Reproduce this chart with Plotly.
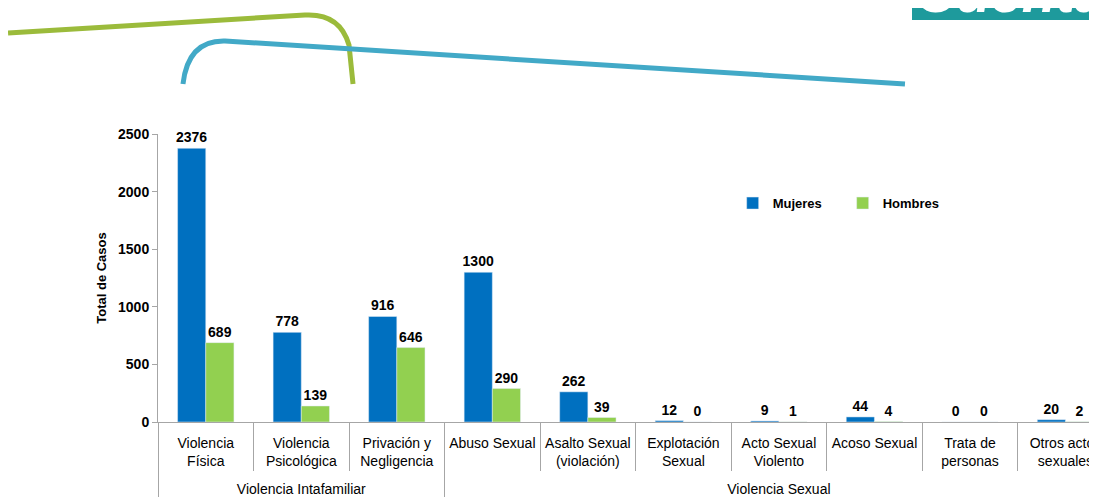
import plotly.graph_objects as go

grupos = ["\u00a0<br>Violencia Intafamiliar"] * 3 + ["\u00a0<br>Violencia Sexual"] * 7
categorias = ["Violencia<br>Física", "Violencia<br>Psicológica", "Privación y<br>Negligencia",
              "Abuso Sexual<br> ", "Asalto Sexual<br>(violación)", "Explotación<br>Sexual",
              "Acto Sexual<br>Violento", "Acoso Sexual<br> ", "Trata de<br>personas",
              "Otros actos<br>sexuales"]
mujeres = [2376, 778, 916, 1300, 262, 12, 9, 44, 0, 20]
hombres = [689, 139, 646, 290, 39, 0, 1, 4, 0, 2]

AZUL = "#0070C0"
VERDE = "#92D050"
FONT = "Liberation Sans, Arial"

W, H = 1097, 497
OFF = 8                      # page body margin
PL, PT, PB = 158, 134, 422   # plot area in page pixels
PW, PH = W - PL, PB - PT


def px(x, y):
    # page pixel -> paper coords (decoration only)
    return (x - PL) / PW, (PB - y) / PH


def path(pts):
    s = ""
    for cmd, x, y in pts:
        a, b = px(x, y)
        s += f"{cmd} {a:.4f},{b:.4f} "
    return s


fig = go.Figure()
for nombre, vals, color in [("Mujeres", mujeres, AZUL), ("Hombres", hombres, VERDE)]:
    fig.add_bar(x=[grupos, categorias], y=vals, name=nombre, marker_color=color,
                text=vals, textposition="outside", cliponaxis=False, constraintext="none",
                textfont=dict(size=14, color="black", family=FONT, weight="bold"))

# header decoration
fig.add_shape(type="path", xref="paper", yref="paper", line=dict(color="#9BBB3B", width=5),
              path=path([("M", 8, 33), ("L", 305, 15), ("Q", 340, 13), ("", 349, 45), ("L", 353, 84)]))
fig.add_shape(type="path", xref="paper", yref="paper", line=dict(color="#42A9C7", width=5),
              path=path([("M", 183, 84), ("Q", 188, 40), ("", 225, 41), ("L", 905, 84)]))
x0, y0 = px(912, -12)
x1, y1 = px(1110, 20)
fig.add_shape(type="rect", xref="paper", yref="paper", x0=x0, y0=y0, x1=x1, y1=y1,
              fillcolor="#1E9A9C", line_width=0, layer="below")
fig.add_annotation(xref="paper", yref="paper", x=px(914, 0)[0], y=px(0, 26)[1],
                   xanchor="left", yanchor="bottom", showarrow=False,
                   text="<b><i>Cuenta</i></b>", font=dict(size=56, color="white", family=FONT))

fig.update_layout(
    width=W, height=H, margin=dict(l=PL - OFF, r=OFF, t=PT - OFF, b=H - PB + OFF),
    plot_bgcolor="white", paper_bgcolor="white",
    barmode="group", bargap=0.41, bargroupgap=0,
    font=dict(family=FONT, size=14, color="black"),
    legend=dict(orientation="h", x=0.612, y=0.76, xanchor="left", yanchor="middle",
                font=dict(size=13, weight="bold"), itemwidth=30, entrywidth=65,
                traceorder="normal"),
)
fig.update_yaxes(range=[0, 2500], dtick=500, showgrid=False, showline=True, linecolor="#A6A6A6",
                 ticks="outside", ticklen=5, tickcolor="#A6A6A6",
                 tickfont=dict(size=14, weight="bold"),
                 title=dict(text="Total de Casos", font=dict(size=13, weight="bold"), standoff=8))
fig.update_xaxes(range=[-0.5, 9.33], showline=True, linecolor="#A6A6A6", ticks="outside",
                 tickson="boundaries", ticklen=48, tickcolor="#A6A6A6",
                 showdividers=True, dividercolor="#A6A6A6", dividerwidth=1,
                 ticklabelstandoff=8, tickfont=dict(size=14))

fig.write_html("out.html")
